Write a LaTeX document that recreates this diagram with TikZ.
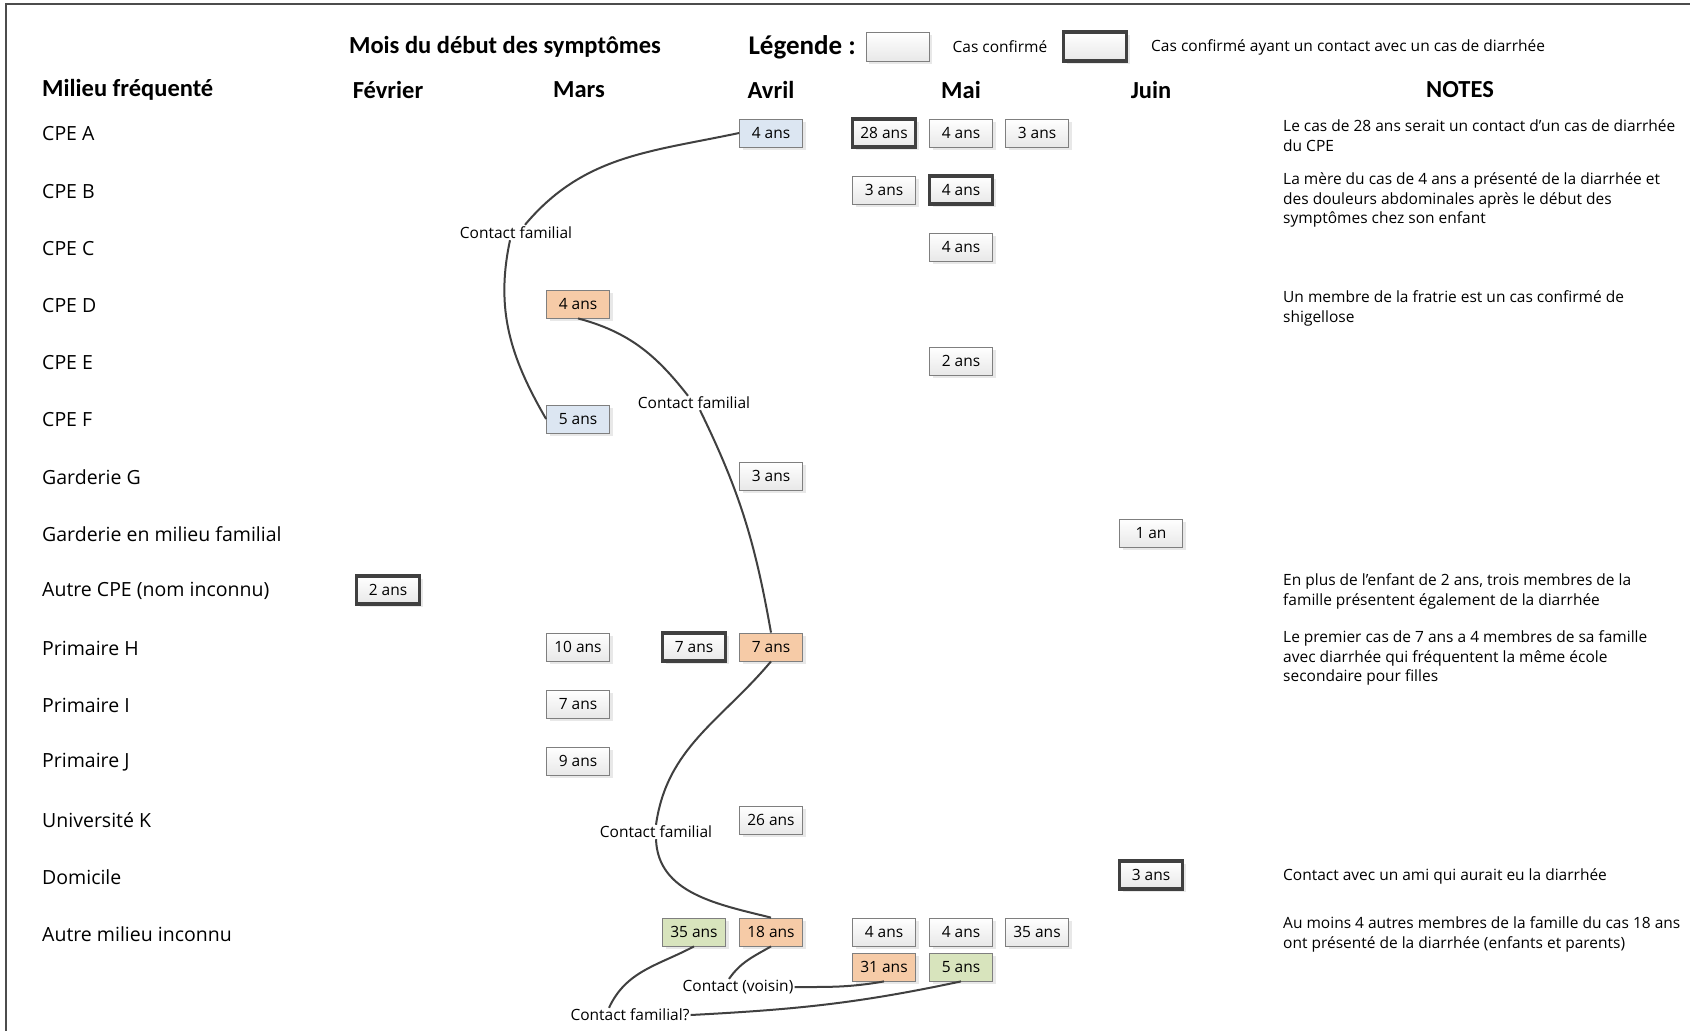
\documentclass[tikz,border=0pt]{standalone}
\usepackage{fontspec}
\setmainfont{Carlito}
\newfontfamily\labelfont{Open Sans}
\usetikzlibrary{positioning,shadows}

\definecolor{casbleu}{HTML}{DCE6F2}
\definecolor{casorange}{HTML}{F6CBA7}
\definecolor{casvert}{HTML}{D8E4BD}
\definecolor{casgris}{HTML}{E8E8E8}
\definecolor{bord}{HTML}{7F7F7F}
\definecolor{trait}{HTML}{404040}

\tikzset{
  titre/.style={font=\bfseries\fontsize{24.5}{28}\selectfont},
  milieu/.style={anchor=west, inner sep=0pt, font=\labelfont\fontsize{19.5}{22}\selectfont},
  note/.style={anchor=north west, align=left, inner sep=0pt, font=\labelfont\fontsize{15.5}{19.4}\selectfont},
  lien/.style={inner sep=1pt, font=\labelfont\fontsize{15.5}{18}\selectfont},
  boite/.style={draw=bord, line width=0.8pt, minimum width=63pt, minimum height=28pt, inner sep=0pt,
    font=\labelfont\fontsize{15.5}{18}\selectfont,
    drop shadow={shadow xshift=3pt, shadow yshift=-3pt, opacity=0.18, fill=black!50}},
  cas/.style={boite, top color=white, bottom color=casgris},
  contact/.style={cas, draw=trait, line width=3.4pt},
  fbleu/.style={boite, fill=casbleu},
  forange/.style={boite, fill=casorange},
  fvert/.style={boite, fill=casvert},
  relie/.style={draw=trait, line width=2pt},
}

\begin{document}
\begin{tikzpicture}[x=1pt, y=1pt]
    \useasboundingbox (0,0) rectangle (1690,-1031);
    \clip (0,0) rectangle (1690,-1031);
    \fill[white] (0,0) rectangle (1690,-1031);
    \draw[line width=2pt, black!70] (5.7,-1040) -- (5.7,-4.3) -- (1700,-4.3);

    \node[titre] (titre) at (505,-47) {Mois du début des symptômes};
    \node[titre, font=\bfseries\fontsize{27}{30}\selectfont, anchor=west] (legende) at (745,-47) {Légende :};
    \node[cas, minimum height=29pt] (leg1) at (897.5,-46.5) {};
    \node[lien] (leg1txt) at (1000,-47) {Cas confirmé};
    \node[contact, minimum height=29pt] (leg2) at (1095,-46.5) {};
    \node[lien, anchor=west] (leg2txt) at (1150,-47) {Cas confirmé ayant un contact avec un cas de diarrhée};

    \node[titre, anchor=west, inner sep=0pt] (milieu) at (42,-90) {Milieu fréquenté};
    \node[titre] (fev) at (388,-90) {Février};
    \node[titre] (mars) at (579,-90) {Mars};
    \node[titre] (avr) at (771,-90) {Avril};
    \node[titre] (mai) at (961,-90) {Mai};
    \node[titre] (juin) at (1151,-90) {Juin};
    \node[titre] (notes) at (1460,-90) {NOTES};

    \foreach \lab [count=\i from 0] in {CPE A, CPE B, CPE C, CPE D, CPE E, CPE F, Garderie G,
        Garderie en milieu familial, Autre CPE (nom inconnu), Primaire H, Primaire I, Primaire J,
        Université K, Domicile, Autre milieu inconnu}
      \node[milieu] (m\i) at (42,{-134-57.15*\i}) {\lab};

    \node[fbleu] (a-avr) at (771,-133) {4 ans};
    \node[contact] (a-mai1) at (884,-133) {28 ans};
    \node[cas] (a-mai2) at (961,-133) {4 ans};
    \node[cas] (a-mai3) at (1037,-133) {3 ans};
    \node[cas] (b-mai1) at (884,-190) {3 ans};
    \node[contact] (b-mai2) at (961,-190) {4 ans};
    \node[cas] (c-mai) at (961,-247) {4 ans};
    \node[forange] (d-mar) at (578,-304) {4 ans};
    \node[cas] (e-mai) at (961,-361) {2 ans};
    \node[fbleu] (f-mar) at (578,-419) {5 ans};
    \node[cas] (g-avr) at (771,-476) {3 ans};
    \node[cas] (gf-juin) at (1151,-533) {1 an};
    \node[contact] (ac-fev) at (388,-590) {2 ans};
    \node[cas] (h-mar) at (578,-647) {10 ans};
    \node[contact] (h-avr1) at (694,-647) {7 ans};
    \node[forange] (h-avr2) at (771,-647) {7 ans};
    \node[cas] (i-mar) at (578,-704) {7 ans};
    \node[cas] (j-mar) at (578,-761) {9 ans};
    \node[cas] (k-avr) at (771,-820) {26 ans};
    \node[contact] (dom-juin) at (1151,-875) {3 ans};
    \node[fvert] (inc-avr1) at (694,-932) {35 ans};
    \node[forange] (inc-avr2) at (771,-932) {18 ans};
    \node[cas] (inc-mai1) at (884,-932) {4 ans};
    \node[cas] (inc-mai2) at (961,-932) {4 ans};
    \node[cas] (inc-mai3) at (1037,-932) {35 ans};
    \node[forange] (inc-mai4) at (884,-967) {31 ans};
    \node[fvert] (inc-mai5) at (961,-967) {5 ans};

    \node[lien] (cf1) at (516,-233) {Contact familial};
    \node[lien] (cf2) at (694,-403) {Contact familial};
    \node[lien] (cf3) at (656,-832) {Contact familial};
    \node[lien] (cv) at (738,-987) {Contact (voisin)};
    \node[lien] (cfq) at (630,-1015) {Contact familial?};

    \draw[relie] (a-avr.west) to[out=192,in=50] ([xshift=9pt,yshift=1pt]cf1.north);
    \draw[relie] ([xshift=-6pt]cf1.south) to[out=258,in=120] (f-mar.west);
    \draw[relie] (d-mar.south) to[out=-15,in=128] ([xshift=-6pt]cf2.north);
    \draw[relie] ([xshift=6pt]cf2.south) to[out=-64,in=100] (h-avr2.north);
    \draw[relie] (h-avr2.south) to[out=-130,in=82] (cf3.north);
    \draw[relie] (cf3.south) to[out=-88,in=166] (inc-avr2.north);
    \draw[relie] (inc-avr2.south) to[out=210,in=55] ([xshift=-9pt]cv.north);
    \draw[relie] (cv.east) to[out=0,in=190] (inc-mai4.south);
    \draw[relie] (inc-avr1.south) to[out=208,in=65] ([xshift=-21pt]cfq.north);
    \draw[relie] (cfq.east) to[out=3,in=192] (inc-mai5.south);

    \node[note] (n-a) at (1283,-118) {\strut Le cas de 28 ans serait un contact d’un cas de diarrhée\\du CPE};
    \node[note] (n-b) at (1283,-171) {\strut La mère du cas de 4 ans a présenté de la diarrhée et\\des douleurs abdominales après le début des\\symptômes chez son enfant};
    \node[note] (n-d) at (1283,-289) {\strut Un membre de la fratrie est un cas confirmé de\\shigellose};
    \node[note] (n-ac) at (1283,-572) {\strut En plus de l’enfant de 2 ans, trois membres de la\\famille présentent également de la diarrhée};
    \node[note] (n-h) at (1283,-629) {\strut Le premier cas de 7 ans a 4 membres de sa famille\\avec diarrhée qui fréquentent la même école\\secondaire pour filles};
    \node[note] (n-dom) at (1283,-867) {\strut Contact avec un ami qui aurait eu la diarrhée};
    \node[note] (n-inc) at (1283,-915) {\strut Au moins 4 autres membres de la famille du cas 18 ans\\ont présenté de la diarrhée (enfants et parents)};
\end{tikzpicture}
\end{document}
